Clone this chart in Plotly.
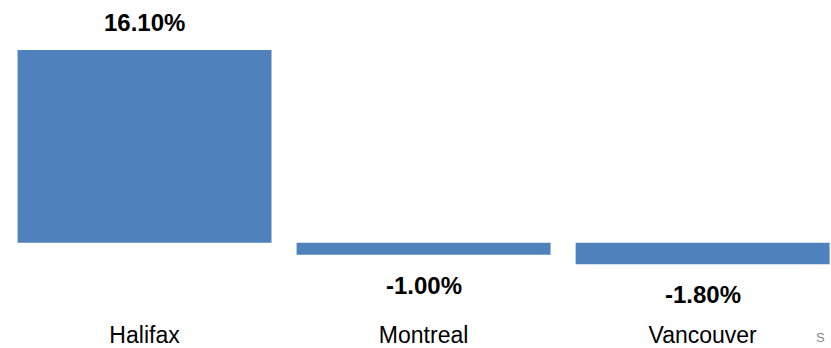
import plotly.graph_objects as go

cities = ["Halifax", "Montreal", "Vancouver"]
change_pct = [16.10, -1.00, -1.80]
value_labels = ["16.10%", "-1.00%", "-1.80%"]

BAR = "#4F81BD"
FONT = "Liberation Sans, Arial, sans-serif"

fig = go.Figure(
    go.Bar(
        x=list(range(len(cities))),
        y=change_pct,
        width=0.91,
        marker=dict(color=BAR, line=dict(width=0)),
        hoverinfo="skip",
    )
)

# percentage labels: above positive bars, below negative ones
for i, (v, lab) in enumerate(zip(change_pct, value_labels)):
    fig.add_annotation(
        x=i, y=v, text=f"<b>{lab}</b>", showarrow=False,
        xanchor="center", yanchor="middle",
        yshift=27.5 if v >= 0 else -30.5,
        font=dict(family=FONT, size=24, color="#000000"),
    )

# source note in the bottom-right corner
fig.add_annotation(
    xref="paper", yref="paper", x=1.0, y=-0.26,
    xanchor="right", yanchor="top", xshift=-4,
    text="S", showarrow=False,
    font=dict(family=FONT, size=13, color="#888888"),
)

fig.update_layout(
    width=831, height=348,
    margin=dict(l=5, r=0, t=33, b=81, autoexpand=False),
    paper_bgcolor="white", plot_bgcolor="white",
    showlegend=False,
    xaxis=dict(
        range=[-0.5, 2.46],
        tickmode="array", tickvals=list(range(len(cities))), ticktext=cities,
        showgrid=False, zeroline=False, showline=False, ticks="",
        tickfont=dict(family=FONT, size=23, color="#000000"),
        ticklabelstandoff=52, automargin=False,
    ),
    yaxis=dict(
        range=[-2.03, 17.52],
        visible=False, showgrid=False, zeroline=False, automargin=False,
    ),
)

fig.write_html("out.html")
